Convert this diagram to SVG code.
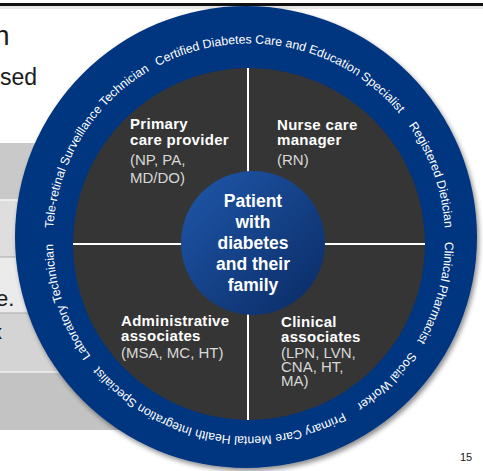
<svg xmlns="http://www.w3.org/2000/svg" xmlns:xlink="http://www.w3.org/1999/xlink" width="483" height="471" viewBox="0 0 483 471">
  <defs>
    <style>
      .slide { font-family: "Liberation Sans", Arial, sans-serif; fill: #1a1a1a; }
      .ring-label { font-family: "Liberation Sans", Arial, sans-serif; font-size: 12.3px; fill: #ffffff; }
      .head { font-family: "Liberation Sans", Arial, sans-serif; font-size: 15px; font-weight: bold; fill: #ffffff; letter-spacing: 0.3px; }
      .sub { font-family: "Liberation Sans", Arial, sans-serif; font-size: 15px; fill: #d8d8d8; }
      .core { font-family: "Liberation Sans", Arial, sans-serif; font-size: 17.5px; font-weight: bold; fill: #ffffff; text-anchor: middle; }
      .divider { stroke: #ffffff; stroke-width: 2; }
    </style>
    <filter id="soft-shadow" x="-10%" y="-10%" width="120%" height="120%">
      <feGaussianBlur in="SourceAlpha" stdDeviation="2.5"/>
      <feOffset dx="2" dy="3" result="blur"/>
      <feComponentTransfer><feFuncA type="linear" slope="0.45"/></feComponentTransfer>
      <feMerge><feMergeNode/><feMergeNode in="SourceGraphic"/></feMerge>
    </filter>
    <linearGradient id="core-fill" x1="0" y1="0" x2="1" y2="1">
      <stop offset="0" stop-color="#1f58ab"/>
      <stop offset="1" stop-color="#0a2a63"/>
    </linearGradient>
    <!-- clockwise label track (two turns so no label is clipped at the seam) -->
    <path id="track" d="M53.12,233.16 A196,196 0 1,1 444.88,246.84 A196,196 0 1,1 53.12,233.16 A196,196 0 1,1 444.88,246.84 A196,196 0 1,1 53.12,233.16"/>
  </defs>

  <rect width="483" height="471" fill="#ffffff"/>

  <!-- slide background behind the wheel -->
  <g id="slide">
    <rect x="0" y="3" width="483" height="3" fill="#111111"/>
    <rect x="0" y="6" width="483" height="3" fill="#d0d0d0" opacity="0.5"/>
    <text class="slide" x="-6" y="45" font-size="28">n</text>
    <text class="slide" x="0" y="85" font-size="23">sed</text>
    <rect x="0" y="143" width="240" height="57" fill="#c9c9c9"/>
    <rect x="0" y="200" width="240" height="57" fill="#dedede"/>
    <rect x="0" y="257" width="240" height="56" fill="#ebebeb"/>
    <rect x="0" y="313" width="240" height="59" fill="#d4d4d4"/>
    <rect x="0" y="372" width="240" height="58" fill="#c3c3c3"/>
    <line x1="0" y1="200" x2="240" y2="200" stroke="#f4f4f4" stroke-width="1.5"/>
    <line x1="0" y1="257" x2="240" y2="257" stroke="#ababab" stroke-width="1"/>
    <line x1="0" y1="313" x2="240" y2="313" stroke="#ababab" stroke-width="1"/>
    <line x1="0" y1="372" x2="240" y2="372" stroke="#f0f0f0" stroke-width="1.5"/>
    <text class="slide" x="-4" y="306" font-size="22">e.</text>
    <text class="slide" x="-8" y="339" font-size="20" fill="#555555">x</text>
    <text class="slide" x="460" y="461" font-size="11">15</text>
  </g>

  <!-- outer ring of supporting roles -->
  <g id="ring">
    <circle cx="246" cy="237" r="231" fill="#06357f" filter="url(#soft-shadow)"/>
    <text class="ring-label"><textPath href="#track" xlink:href="#track" startOffset="339.3" text-anchor="middle">Certified Diabetes Care and Education Specialist</textPath></text>
    <text class="ring-label"><textPath href="#track" xlink:href="#track" startOffset="542.5" text-anchor="middle">Registered Dietician</textPath></text>
    <text class="ring-label"><textPath href="#track" xlink:href="#track" startOffset="663.6" text-anchor="middle">Clinical Pharmacist</textPath></text>
    <text class="ring-label"><textPath href="#track" xlink:href="#track" startOffset="766.3" text-anchor="middle">Social Worker</textPath></text>
    <text class="ring-label"><textPath href="#track" xlink:href="#track" startOffset="954.4" text-anchor="middle">Primary Care Mental Health Integration Specialist</textPath></text>
    <text class="ring-label"><textPath href="#track" xlink:href="#track" startOffset="1162" text-anchor="middle">Laboratory Technician</textPath></text>
    <text class="ring-label"><textPath href="#track" xlink:href="#track" startOffset="1334.1" text-anchor="middle">Tele-retinal Surveillance Technician</textPath></text>
  </g>

  <!-- core team disk -->
  <circle id="team-disk" cx="249" cy="244" r="176" fill="#353535"/>

  <g id="dividers">
    <line class="divider" x1="73" y1="244" x2="425" y2="244"/>
    <line class="divider" x1="248" y1="68" x2="248" y2="420"/>
  </g>

  <g id="primary-care-provider">
    <text class="head" x="130" y="129">Primary</text>
    <text class="head" x="130" y="145">care provider</text>
    <text class="sub" x="130" y="165">(NP, PA,</text>
    <text class="sub" x="130" y="183">MD/DO)</text>
  </g>

  <g id="nurse-care-manager">
    <text class="head" x="277" y="130">Nurse care</text>
    <text class="head" x="277" y="145">manager</text>
    <text class="sub" x="277" y="165">(RN)</text>
  </g>

  <g id="administrative-associates">
    <text class="head" x="121" y="326">Administrative</text>
    <text class="head" x="121" y="341">associates</text>
    <text class="sub" x="121" y="358">(MSA, MC, HT)</text>
  </g>

  <g id="clinical-associates">
    <text class="head" x="281" y="327">Clinical</text>
    <text class="head" x="281" y="342">associates</text>
    <text class="sub" x="281" y="358">(LPN, LVN,</text>
    <text class="sub" x="281" y="372">CNA, HT,</text>
    <text class="sub" x="281" y="386">MA)</text>
  </g>

  <g id="patient">
    <circle cx="253" cy="243" r="72" fill="url(#core-fill)"/>
    <text class="core" x="253" y="207">Patient</text>
    <text class="core" x="253" y="228">with</text>
    <text class="core" x="253" y="249">diabetes</text>
    <text class="core" x="253" y="270">and their</text>
    <text class="core" x="253" y="291">family</text>
  </g>
</svg>
